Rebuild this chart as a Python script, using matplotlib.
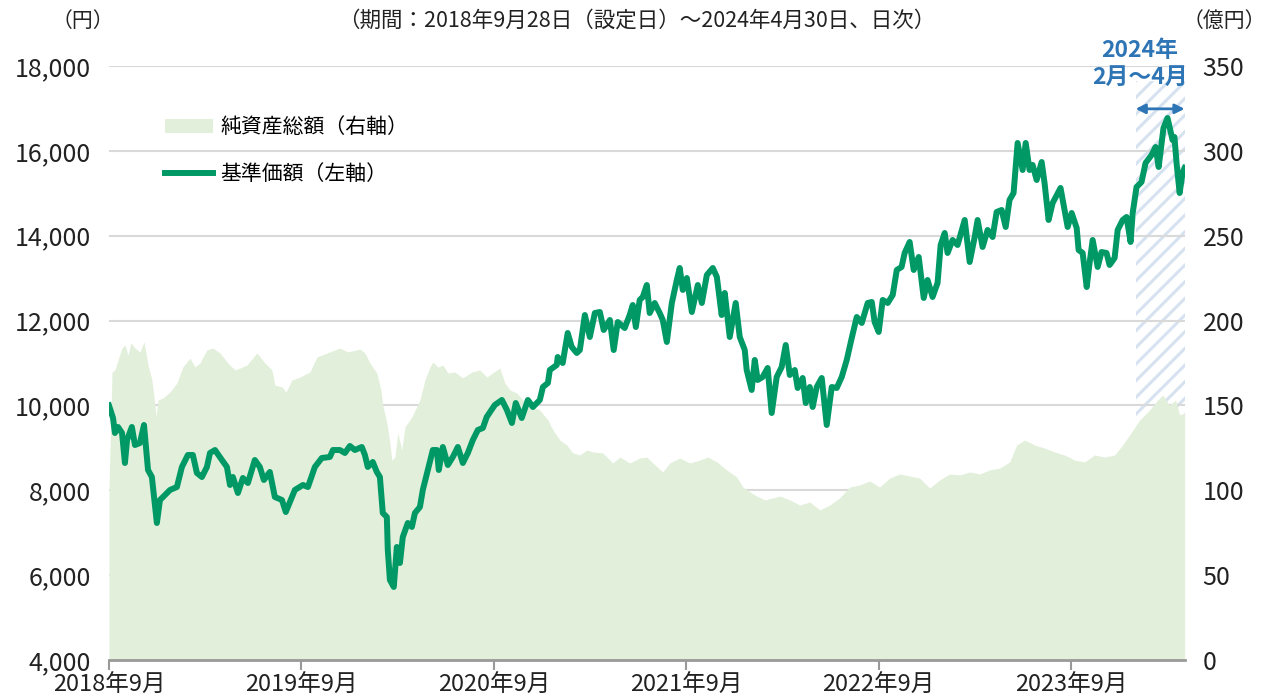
import matplotlib
matplotlib.use("Agg")
import matplotlib.pyplot as plt
from matplotlib.patches import Patch
from matplotlib.lines import Line2D

# 時間軸は小数年 (2018.74 = 2018年9月28日 設定日)
price_t = [
    2018.740, 2018.761, 2018.771, 2018.787, 2018.808, 2018.823, 2018.834, 2018.859, 2018.875, 2018.901,
    2018.922, 2018.943, 2018.963, 2018.989, 2019.005, 2019.021, 2019.057, 2019.093, 2019.119, 2019.150,
    2019.176, 2019.197, 2019.223, 2019.249, 2019.265, 2019.291, 2019.327, 2019.353, 2019.369, 2019.384,
    2019.410, 2019.436, 2019.462, 2019.498, 2019.524, 2019.545, 2019.576, 2019.602, 2019.639, 2019.659,
    2019.691, 2019.706, 2019.748, 2019.774, 2019.810, 2019.846, 2019.888, 2019.904, 2019.940, 2019.966,
    2019.992, 2020.018, 2020.054, 2020.070, 2020.085, 2020.111, 2020.132, 2020.148, 2020.163, 2020.184,
    2020.189, 2020.200, 2020.220, 2020.236, 2020.252, 2020.267, 2020.293, 2020.314, 2020.330, 2020.356,
    2020.371, 2020.397, 2020.423, 2020.444, 2020.454, 2020.475, 2020.501, 2020.527, 2020.553, 2020.579,
    2020.605, 2020.631, 2020.657, 2020.683, 2020.703, 2020.745, 2020.782, 2020.808, 2020.834, 2020.854,
    2020.885, 2020.917, 2020.943, 2020.979, 2020.995, 2021.021, 2021.031, 2021.067, 2021.072, 2021.098,
    2021.124, 2021.145, 2021.171, 2021.187, 2021.213, 2021.239, 2021.265, 2021.291, 2021.311, 2021.343,
    2021.363, 2021.384, 2021.420, 2021.446, 2021.462, 2021.478, 2021.498, 2021.514, 2021.535, 2021.550,
    2021.576, 2021.602, 2021.618, 2021.639, 2021.665, 2021.691, 2021.706, 2021.722, 2021.743, 2021.769,
    2021.800, 2021.821, 2021.847, 2021.878, 2021.899, 2021.924, 2021.940, 2021.966, 2021.997, 2022.018,
    2022.044, 2022.054, 2022.080, 2022.096, 2022.111, 2022.137, 2022.163, 2022.184, 2022.210, 2022.236,
    2022.257, 2022.278, 2022.304, 2022.319, 2022.345, 2022.361, 2022.382, 2022.397, 2022.418, 2022.444,
    2022.470, 2022.496, 2022.522, 2022.548, 2022.574, 2022.600, 2022.626, 2022.652, 2022.683, 2022.704,
    2022.719, 2022.740, 2022.761, 2022.787, 2022.813, 2022.834, 2022.859, 2022.875, 2022.901, 2022.922,
    2022.948, 2022.974, 2022.994, 2023.020, 2023.046, 2023.062, 2023.083, 2023.098, 2023.124, 2023.150,
    2023.187, 2023.213, 2023.239, 2023.254, 2023.280, 2023.306, 2023.332, 2023.353, 2023.379, 2023.400,
    2023.420, 2023.441, 2023.462, 2023.488, 2023.504, 2023.524, 2023.540, 2023.561, 2023.587, 2023.602,
    2023.623, 2023.644, 2023.685, 2023.706, 2023.722, 2023.743, 2023.769, 2023.779, 2023.800, 2023.821,
    2023.836, 2023.852, 2023.878, 2023.898, 2023.924, 2023.940, 2023.966, 2023.982, 2024.008, 2024.028,
    2024.049, 2024.060, 2024.080, 2024.106, 2024.127, 2024.158, 2024.179, 2024.195, 2024.220, 2024.241,
    2024.267, 2024.277, 2024.288, 2024.304, 2024.319, 2024.330,
]
# 基準価額 (円)
price_v = [
    10000, 9704, 9350, 9492, 9350, 8643, 9185, 9492, 9067, 9114,
    9539, 8478, 8313, 7229, 7771, 7842, 8007, 8077, 8549, 8832,
    8832, 8407, 8313, 8549, 8879, 8949, 8714, 8549, 8125, 8313,
    7936, 8290, 8172, 8714, 8549, 8242, 8431, 7842, 7771, 7488,
    7842, 8007, 8125, 8077, 8549, 8761, 8785, 8949, 8949, 8879,
    9044, 8949, 9020, 8832, 8549, 8667, 8431, 8313, 7465, 7370,
    6593, 5886, 5721, 6663, 6286, 6899, 7229, 7135, 7465, 7606,
    8007, 8478, 8949, 8949, 8478, 9020, 8596, 8785, 9020, 8643,
    8879, 9185, 9421, 9468, 9727, 10010, 10128, 9892, 9586, 10057,
    9704, 10128, 9963, 10128, 10434, 10529, 10835, 10953, 11141, 11000,
    11707, 11377, 11236, 11306, 12131, 11613, 12178, 12202, 11778, 12013,
    11306, 11966, 11825, 12131, 12367, 11848, 12485, 12556, 12838, 12178,
    12414, 12178, 12013, 11495, 12414, 12956, 13239, 12721, 13003, 12202,
    12838, 12414, 13074, 13239, 13027, 12131, 12650, 11613, 12414, 11613,
    11306, 10835, 10364, 11071, 10599, 10670, 10882, 9822, 10670, 10906,
    11424, 10717, 10835, 10411, 10646, 10057, 10434, 9963, 10434, 10646,
    9539, 10434, 10411, 10670, 11071, 11589, 12084, 11943, 12414, 12438,
    11966, 11731, 12485, 12414, 12603, 13192, 13263, 13593, 13852, 13192,
    13498, 12532, 12956, 12556, 12886, 13781, 14064, 13593, 13899, 13781,
    14370, 13380, 13970, 14370, 13734, 14135, 13970, 14559, 14606, 14205,
    14842, 15007, 16185, 15549, 16185, 15549, 15667, 15313, 15737, 15242,
    14370, 14771, 15125, 14606, 14205, 14535, 14182, 13663, 13593, 12791,
    13357, 13899, 13263, 13616, 13593, 13310, 13475, 14135, 14370, 14441,
    13852, 14535, 15148, 15266, 15714, 15902, 16091, 15620, 16539, 16774,
    16256, 16326, 15714, 15007, 15478, 15596,
]

nav_t = [
    2018.740, 2018.756, 2018.771, 2018.787, 2018.808, 2018.823, 2018.839, 2018.854, 2018.875, 2018.901,
    2018.922, 2018.943, 2018.963, 2018.979, 2018.984, 2018.995, 2019.021, 2019.057, 2019.093, 2019.124,
    2019.161, 2019.187, 2019.213, 2019.249, 2019.280, 2019.317, 2019.358, 2019.395, 2019.421, 2019.457,
    2019.509, 2019.550, 2019.587, 2019.602, 2019.639, 2019.660, 2019.691, 2019.732, 2019.784, 2019.821,
    2019.873, 2019.940, 2019.982, 2020.044, 2020.070, 2020.096, 2020.132, 2020.153, 2020.163, 2020.184,
    2020.200, 2020.210, 2020.226, 2020.241, 2020.262, 2020.278, 2020.314, 2020.356, 2020.382, 2020.408,
    2020.423, 2020.449, 2020.475, 2020.501, 2020.537, 2020.579, 2020.626, 2020.667, 2020.704, 2020.756,
    2020.771, 2020.797, 2020.823, 2020.860, 2020.891, 2020.943, 2020.979, 2021.021, 2021.047, 2021.083,
    2021.119, 2021.150, 2021.187, 2021.223, 2021.254, 2021.306, 2021.358, 2021.395, 2021.447, 2021.498,
    2021.535, 2021.566, 2021.618, 2021.654, 2021.706, 2021.758, 2021.810, 2021.852, 2021.899, 2021.950,
    2022.002, 2022.034, 2022.096, 2022.148, 2022.226, 2022.278, 2022.330, 2022.382, 2022.434, 2022.486,
    2022.537, 2022.589, 2022.641, 2022.693, 2022.745, 2022.797, 2022.849, 2022.901, 2022.953, 2023.005,
    2023.057, 2023.109, 2023.161, 2023.213, 2023.265, 2023.317, 2023.369, 2023.421, 2023.457, 2023.499,
    2023.550, 2023.602, 2023.654, 2023.706, 2023.758, 2023.810, 2023.862, 2023.914, 2023.966, 2024.008,
    2024.044, 2024.096, 2024.148, 2024.190, 2024.216, 2024.252, 2024.283, 2024.304, 2024.330,
]
# 純資産総額 (億円)
nav_v = [
    100.0, 169.7, 170.9, 176.8, 183.8, 185.6, 179.7, 186.8, 183.8, 181.5,
    187.4, 173.8, 165.0, 150.2, 143.2, 153.2, 154.4, 157.9, 163.2, 172.6,
    177.9, 172.6, 175.0, 182.7, 183.8, 180.9, 175.0, 170.9, 172.0, 173.8,
    180.9, 175.0, 170.9, 162.0, 160.9, 157.9, 165.0, 166.7, 169.7, 178.5,
    180.9, 183.8, 181.5, 183.2, 180.9, 175.0, 169.1, 159.1, 150.2, 139.6,
    127.9, 117.8, 119.6, 133.7, 123.7, 137.3, 143.2, 153.2, 165.0, 172.6,
    175.6, 172.6, 173.8, 169.1, 169.7, 166.2, 169.7, 170.9, 166.7, 170.9,
    172.0, 163.2, 159.1, 157.3, 153.2, 149.1, 147.3, 141.4, 135.5, 129.6,
    126.7, 122.0, 120.8, 123.7, 122.6, 122.0, 116.1, 119.6, 116.1, 119.0,
    119.6, 116.1, 110.8, 116.1, 119.0, 116.1, 117.8, 119.6, 116.7, 112.0,
    107.8, 101.9, 97.2, 94.3, 96.6, 94.3, 91.3, 93.1, 88.4, 91.3,
    95.5, 101.9, 103.1, 105.5, 101.9, 107.2, 109.6, 108.4, 107.2, 101.3,
    106.1, 109.6, 109.0, 110.8, 109.6, 112.0, 113.1, 116.7, 126.7, 129.6,
    126.7, 124.9, 122.6, 120.8, 117.8, 116.7, 120.8, 119.6, 120.8, 126.7,
    132.6, 141.4, 147.3, 153.2, 156.1, 150.2, 153.2, 144.4, 145.5,
]

x_ticks = [2018.74, 2019.74, 2020.74, 2021.74, 2022.74, 2023.74]
x_labels = ["2018年9月", "2019年9月", "2020年9月", "2021年9月", "2022年9月", "2023年9月"]
left_ticks = [4000, 6000, 8000, 10000, 12000, 14000, 16000, 18000]
right_ticks = [0, 50, 100, 150, 200, 250, 300, 350]
band_start, band_end = 2024.075, 2024.33

LINE_GREEN = "#009966"
AREA_GREEN = "#e2efda"
BLUE = "#2e75b6"

plt.rcParams["font.family"] = ["Noto Sans CJK JP", "DejaVu Sans"]
plt.rcParams["hatch.linewidth"] = 2.2

fig = plt.figure(figsize=(12.67, 6.99), dpi=100)
ax = fig.add_axes([0.086, 0.0558, 0.849, 0.8498])
ax2 = ax.twinx()
ax.set_zorder(ax2.get_zorder() + 1)
ax.patch.set_visible(False)

# 右軸: 純資産総額 + グリッド + 強調期間
ax2.set_ylim(0, 350)
ax2.set_yticks(right_ticks)
ax2.yaxis.grid(True, color="#d9d9d9", linewidth=1.5)
ax2.set_axisbelow(True)
ax2.fill_between([band_start, band_end], 0, 341, facecolor="white",
                 edgecolor="#d6e2f0", hatch="//", linewidth=0, zorder=0.5)
ax2.fill_between(nav_t, nav_v, 0, color=AREA_GREEN, linewidth=0, zorder=1)

# 左軸: 基準価額
ax.plot(price_t, price_v, color=LINE_GREEN, linewidth=4.3, solid_joinstyle="round", zorder=3)
ax.set_ylim(4000, 18000)
ax.set_yticks(left_ticks)
ax.set_yticklabels([f"{v:,}" for v in left_ticks])
ax.set_xlim(2018.74, 2024.33)
ax.set_xticks(x_ticks)
ax.set_xticklabels(x_labels)

for a in (ax, ax2):
    for s in ("top", "left", "right"):
        a.spines[s].set_visible(False)
ax2.spines["bottom"].set_visible(False)
ax.spines["bottom"].set_color("#999999")
ax.spines["bottom"].set_linewidth(2)

ax.tick_params(axis="y", length=0, labelsize=18, pad=13, colors="#222222")
ax2.tick_params(axis="y", length=0, labelsize=18, pad=13, colors="#222222")
ax.tick_params(axis="x", length=7, width=1.5, color="#999999", labelsize=17, pad=3,
               labelcolor="#222222")

# 凡例
handles = [Patch(facecolor=AREA_GREEN, edgecolor="none"),
           Line2D([], [], color=LINE_GREEN, linewidth=4.3)]
ax.legend(handles, ["純資産総額（右軸）", "基準価額（左軸）"], loc="upper left",
          bbox_to_anchor=(0.052, 0.915), frameon=False, fontsize=15,
          handlelength=2.3, handleheight=0.65, handletextpad=0.35,
          labelspacing=1.2, borderpad=0, borderaxespad=0)

# 2024年2月～4月 の注記
ax.annotate("", xy=(band_end, 16990), xytext=(band_start, 16990),
            arrowprops=dict(arrowstyle="<|-|>", color=BLUE, lw=2, mutation_scale=14,
                            shrinkA=0, shrinkB=0), annotation_clip=False)
txt_x = 2024.096
ax.text(txt_x, 18360, "2024年", color=BLUE, fontsize=16.5, fontweight="bold",
        ha="center", va="center", clip_on=False)
ax.text(txt_x, 17740, "2月～4月", color=BLUE, fontsize=16.5, fontweight="bold",
        ha="center", va="center", clip_on=False)

fig.text(83 / 1267, 1 - 21 / 699, "（円）", fontsize=15, ha="center", va="center", color="#222222")
fig.text(1224 / 1267, 1 - 21 / 699, "（億円）", fontsize=15, ha="center", va="center", color="#222222")
fig.text(637 / 1267, 1 - 21 / 699, "（期間：2018年9月28日（設定日）～2024年4月30日、日次）",
         fontsize=15.5, ha="center", va="center", color="#222222")

fig.savefig("out.png", dpi=100)
